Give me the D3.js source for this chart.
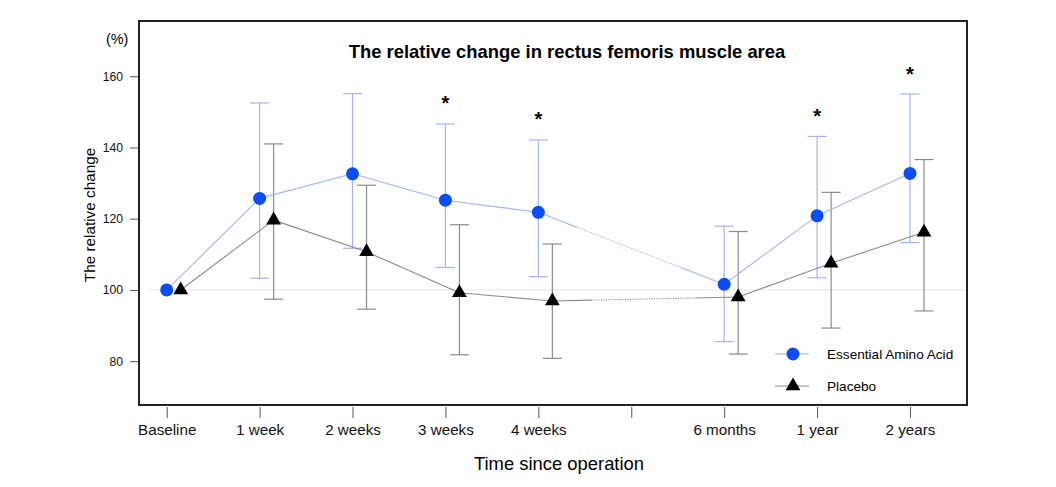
<!DOCTYPE html>
<html>
<head>
<meta charset="utf-8">
<script src="https://cdn.jsdelivr.net/npm/d3@7"></script>
<style>
  body { margin: 0; background: #fff; }
  svg { font-family: "Liberation Sans", Arial, sans-serif; }
</style>
</head>
<body>
<div id="chart"></div>
<script>
// tick labels on the x axis (slot 5 is an empty tick)
const timeLabels = ["Baseline", "1 week", "2 weeks", "3 weeks", "4 weeks", "", "6 months", "1 year", "2 years"];
// slot of each measurement on the x axis
const timeSlots = [0, 1, 2, 3, 4, 6, 7, 8];

const eaaMean  = [100, 125.7, 132.6, 125.2, 121.8, 101.6, 120.8, 132.7];
const eaaUpper = [100, 152.5, 155.1, 146.6, 142.1, 117.9, 143.1, 155.0];
const eaaLower = [100, 103.3, 111.7, 106.3, 103.7, 85.5, 103.4, 113.3];

const placeboMean  = [100, 119.6, 110.7, 99.2, 96.9, 98.0, 107.5, 116.2];
const placeboUpper = [100, 141.0, 129.4, 118.3, 112.9, 116.4, 127.4, 136.6];
const placeboLower = [100, 97.4, 94.6, 81.8, 80.8, 82.0, 89.3, 94.1];

const significant = [false, false, false, true, true, false, true, true];

const yTicks = [80, 100, 120, 140, 160];

const width = 1056;
const height = 487;
const box = { left: 139, right: 967, top: 21, bottom: 405 };

const svg = d3.select("#chart")
    .append("svg")
    .attr("width", width)
    .attr("height", height);

const x = d3.scaleLinear().domain([0, 8]).range([166.7, 910]);
const y = d3.scaleLinear().domain([67.7, 175.5]).range([box.bottom, box.top]);

const offset = 14; // placebo drawn a little to the right

// reference line at 100 %
svg.append("line")
    .attr("x1", box.left + 10).attr("x2", box.right - 3)
    .attr("y1", y(100)).attr("y2", y(100))
    .attr("stroke", "#e6e6e6").attr("stroke-width", 1);

// axes
const yAxis = svg.append("g")
    .attr("transform", `translate(139,0)`)
    .call(d3.axisLeft(y).tickValues(yTicks).tickSize(9).tickPadding(7));
yAxis.select(".domain").remove();
yAxis.selectAll("line").attr("stroke", "#555");
yAxis.selectAll("text").attr("font-size", 12.2).attr("fill", "#111");

const xAxis = svg.append("g")
    .attr("transform", `translate(0,407)`)
    .call(d3.axisBottom(x).tickValues(d3.range(9)).tickFormat(i => timeLabels[i]).tickSize(11).tickPadding(6));
xAxis.select(".domain").remove();
xAxis.selectAll("line").attr("stroke", "#555");
xAxis.selectAll("text").attr("font-size", 15.2).attr("fill", "#111");

// frame
svg.append("rect")
    .attr("x", box.left).attr("y", box.top)
    .attr("width", box.right - box.left).attr("height", box.bottom - box.top)
    .attr("fill", "none").attr("stroke", "#222").attr("stroke-width", 2);

// series line: solid, except the 4 weeks -> 6 months gap which is dotted in the middle
function drawSeries(means, dx, color) {
    const pts = timeSlots.map((s, i) => [x(s) + dx, y(means[i])]);
    const g = svg.append("g");
    for (let i = 0; i < pts.length - 1; i++) {
        const [a, b] = [pts[i], pts[i + 1]];
        if (timeSlots[i + 1] - timeSlots[i] > 1) {
            const lerp = t => [a[0] + (b[0] - a[0]) * t, a[1] + (b[1] - a[1]) * t];
            const p1 = lerp(0.21), p2 = lerp(0.77);
            [[a, p1, null], [p1, p2, "1.2,1.2"], [p2, b, null]].forEach(([s, e, dash]) => {
                g.append("line")
                    .attr("x1", s[0]).attr("y1", s[1]).attr("x2", e[0]).attr("y2", e[1])
                    .attr("stroke", color).attr("stroke-width", 1.1)
                    .attr("stroke-dasharray", dash);
            });
        } else {
            g.append("line")
                .attr("x1", a[0]).attr("y1", a[1]).attr("x2", b[0]).attr("y2", b[1])
                .attr("stroke", color).attr("stroke-width", 1.1);
        }
    }
}

function drawErrorBars(upper, lower, dx, color) {
    const g = svg.append("g").attr("stroke", color).attr("stroke-width", 1.2);
    timeSlots.forEach((s, i) => {
        if (upper[i] === lower[i]) return;
        const cx = x(s) + dx;
        g.append("line").attr("x1", cx).attr("x2", cx).attr("y1", y(upper[i])).attr("y2", y(lower[i]));
        [upper[i], lower[i]].forEach(v => {
            g.append("line").attr("x1", cx - 9.5).attr("x2", cx + 9.5).attr("y1", y(v)).attr("y2", y(v));
        });
    });
}

const blue = "#0a4cf6";
const blueLight = "#9fb4f7";
const grey = "#8a8a8a";

drawErrorBars(eaaUpper, eaaLower, 0, blueLight);
drawErrorBars(placeboUpper, placeboLower, offset, grey);
drawSeries(eaaMean, 0, blueLight);
drawSeries(placeboMean, offset, grey);

const triangle = d3.symbol().type(d3.symbolTriangle).size(95);

svg.append("g").selectAll("circle")
    .data(eaaMean)
    .join("circle")
    .attr("cx", (d, i) => x(timeSlots[i]))
    .attr("cy", d => y(d))
    .attr("r", 6.5)
    .attr("fill", blue);

svg.append("g").selectAll("path")
    .data(placeboMean)
    .join("path")
    .attr("d", triangle)
    .attr("transform", (d, i) => `translate(${x(timeSlots[i]) + offset},${y(d)})`)
    .attr("fill", "#000");

// significance stars
svg.append("g").selectAll("text")
    .data(timeSlots.filter((s, i) => significant[i]))
    .join("text")
    .attr("x", s => x(s))
    .attr("y", s => y(eaaUpper[timeSlots.indexOf(s)]) - 13.5)
    .attr("text-anchor", "middle")
    .attr("font-size", 20)
    .attr("font-weight", "bold")
    .text("*");

// titles
svg.append("text")
    .attr("x", 567).attr("y", 58)
    .attr("text-anchor", "middle")
    .attr("font-size", 18.4).attr("font-weight", "bold")
    .text("The relative change in rectus femoris muscle area");

svg.append("text")
    .attr("x", 106).attr("y", 44)
    .attr("font-size", 14.4)
    .text("(%)");

svg.append("text")
    .attr("transform", `translate(95,215) rotate(-90)`)
    .attr("text-anchor", "middle")
    .attr("font-size", 15.3)
    .text("The relative change");

svg.append("text")
    .attr("x", 559).attr("y", 470)
    .attr("text-anchor", "middle")
    .attr("font-size", 18.4)
    .text("Time since operation");

// legend
const legend = svg.append("g");
const legendItems = [
    { label: "Essential Amino Acid", y: 354, line: blueLight, kind: "circle" },
    { label: "Placebo", y: 386, line: grey, kind: "triangle" }
];
legendItems.forEach(it => {
    legend.append("line")
        .attr("x1", 775).attr("x2", 809).attr("y1", it.y).attr("y2", it.y)
        .attr("stroke", it.line).attr("stroke-width", 1.1);
    if (it.kind === "circle") {
        legend.append("circle").attr("cx", 793).attr("cy", it.y).attr("r", 6.5).attr("fill", blue);
    } else {
        legend.append("path").attr("d", triangle).attr("transform", `translate(793,${it.y})`).attr("fill", "#000");
    }
    legend.append("text")
        .attr("x", 827).attr("y", it.y + 5)
        .attr("font-size", 13.6)
        .text(it.label);
});
</script>
</body>
</html>
